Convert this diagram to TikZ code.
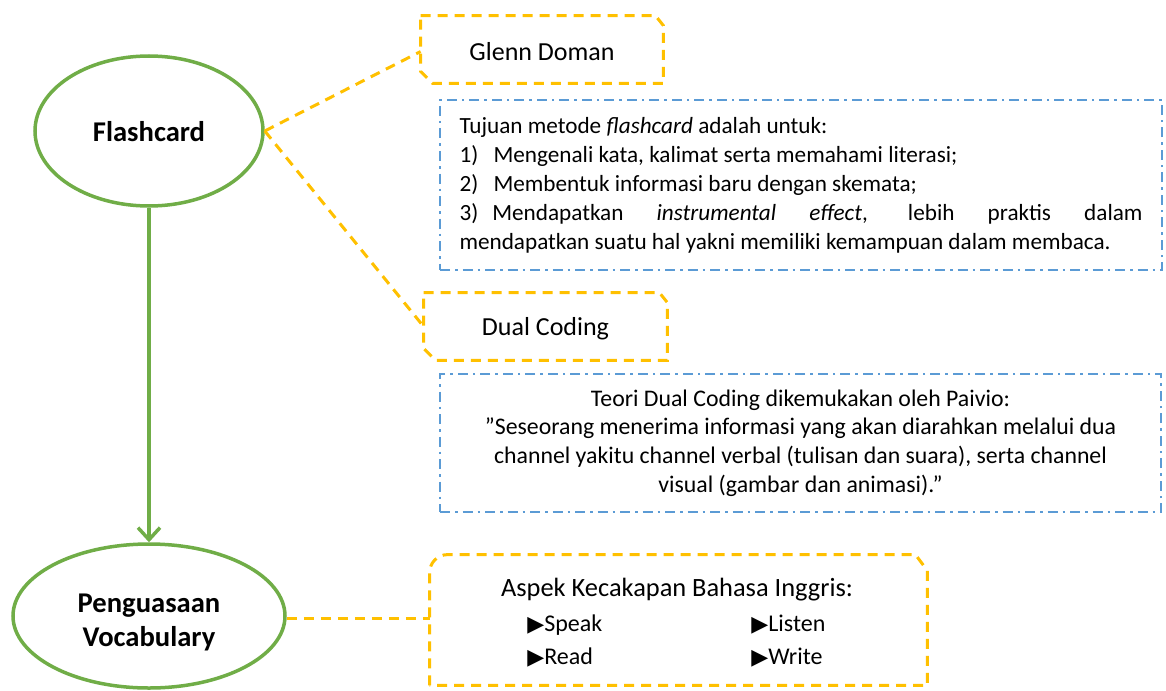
\documentclass[tikz,border=0pt]{standalone}
\usepackage{fontspec}
\setmainfont{Carlito}
\newfontfamily\symfont{DejaVu Sans}
\usetikzlibrary{shapes.geometric,arrows.meta,calc}
\definecolor{fgreen}{HTML}{70AD47}
\definecolor{fyellow}{HTML}{FFC000}
\definecolor{fblue}{HTML}{5B9BD5}
\newcommand{\tribul}{{\fontsize{11}{12}\symfont\char"25B6}}
\begin{document}
\begin{tikzpicture}[x=0.5pt,y=-0.5pt,
  oval/.style={ellipse, draw=fgreen, line width=1.75pt, inner sep=0pt},
  ovaltext/.style={inner sep=0pt, align=center, font=\fontsize{14.3}{17}\selectfont\bfseries},
  ylink/.style={draw=fyellow, line width=1.5pt, dash pattern=on 5pt off 3.5pt},
  bbox/.style={draw=fblue, line width=1.3pt, dash pattern=on 5pt off 2.5pt on 1.25pt off 2.5pt},
  txt/.style={font=\fontsize{11.6}{14.5}\selectfont, inner sep=0pt},
  holder/.style={rectangle, inner sep=0pt},
  garrow/.style={draw=fgreen, line width=1.75pt, -{Straight Barb[length=6pt,width=11pt]}}
]
\useasboundingbox (0,0) rectangle (1166,690);

% ovals
\node[oval, minimum width=114pt, minimum height=75pt] (fc) at (149,131) {};
\node[ovaltext] (fctext) at (149,132) {Flashcard};
\node[oval, minimum width=136pt, minimum height=72pt] (pv) at (149,616) {};
\node[ovaltext] (pvtext) at (149,622) {Penguasaan\\Vocabulary};
\draw[garrow] (fc) -- (pv);

% Glenn Doman box
\node[holder, minimum width=121pt, minimum height=33.5pt] (gd) at (542,49.5) {};
\node[inner sep=0pt, font=\fontsize{13}{15}\selectfont] (gdtext) at (542,52) {Glenn Doman};
\draw[ylink] (gd.north west) -- ([xshift=-4pt]gd.north east) -- ([yshift=-5pt]gd.north east)
  -- (gd.south east) -- ([xshift=6pt]gd.south west) -- ([yshift=6pt]gd.south west) -- cycle;

% Dual Coding box
\node[holder, minimum width=121.5pt, minimum height=33.5pt] (dc) at (545.5,326.5) {};
\node[inner sep=0pt, font=\fontsize{13}{15}\selectfont] (dctext) at (545.5,328.5) {Dual Coding};
\draw[ylink] (dc.north west) -- ([xshift=-4pt]dc.north east) -- ([yshift=-5pt]dc.north east)
  -- (dc.south east) -- ([xshift=6pt]dc.south west) -- ([yshift=6pt]dc.south west) -- cycle;

% connectors
\draw[ylink] (fc.east) -- ([yshift=-1pt]gd.west);
\draw[ylink] (fc.east) -- (dc.west);

% blue box 1
\node[bbox, txt, minimum width=361pt, minimum height=85pt, text width=341.5pt, align=justify] (b1) at (801,185)
{Tujuan metode \textit{flashcard} adalah untuk:\\
1)\hspace{5pt} Mengenali kata, kalimat serta memahami literasi;\\
2)\hspace{5pt} Membentuk informasi baru dengan skemata;\\
3)\hspace{7pt}Mendapatkan \textit{instrumental effect}, lebih praktis dalam\linebreak
mendapatkan suatu hal yakni memiliki kemampuan dalam membaca.};

% blue box 2
\node[bbox, font=\fontsize{11.9}{14.35}\selectfont, inner sep=0pt, minimum width=360.5pt, minimum height=69pt, align=center] (b2) at (800.5,443)
{Teori Dual Coding dikemukakan oleh Paivio:\\
”Seseorang menerima informasi yang akan diarahkan melalui dua\\
channel yakitu channel verbal (tulisan dan suara), serta channel\\
visual (gambar dan animasi).”};

% Aspek box
\node[holder, minimum width=248.5pt, minimum height=65pt] (asp) at (678.5,620) {};
\draw[ylink] (asp.south west) -- ([yshift=-9pt]asp.north west)
  to[out=90,in=180] ([xshift=9pt]asp.north west)
  -- ([xshift=-6pt]asp.north east) -- ([yshift=-8pt]asp.north east)
  -- (asp.south east) -- cycle;
\draw[ylink] ([yshift=-1pt]pv.east) -- ([yshift=-1pt]pv.east -| asp.west);

\node[inner sep=0pt, font=\fontsize{13.2}{15}\selectfont] (asptitle) at (677,590) {Aspek Kecakapan Bahasa Inggris:};
\node[inner sep=0pt, font=\fontsize{12}{14}\selectfont, anchor=west] (sp) at (527,625) {\tribul Speak};
\node[inner sep=0pt, font=\fontsize{12}{14}\selectfont, anchor=west] (li) at (751,625) {\tribul Listen};
\node[inner sep=0pt, font=\fontsize{12}{14}\selectfont, anchor=west] (rd) at (527,658) {\tribul Read};
\node[inner sep=0pt, font=\fontsize{12}{14}\selectfont, anchor=west] (wr) at (751,658) {\tribul Write};
\end{tikzpicture}
\end{document}
